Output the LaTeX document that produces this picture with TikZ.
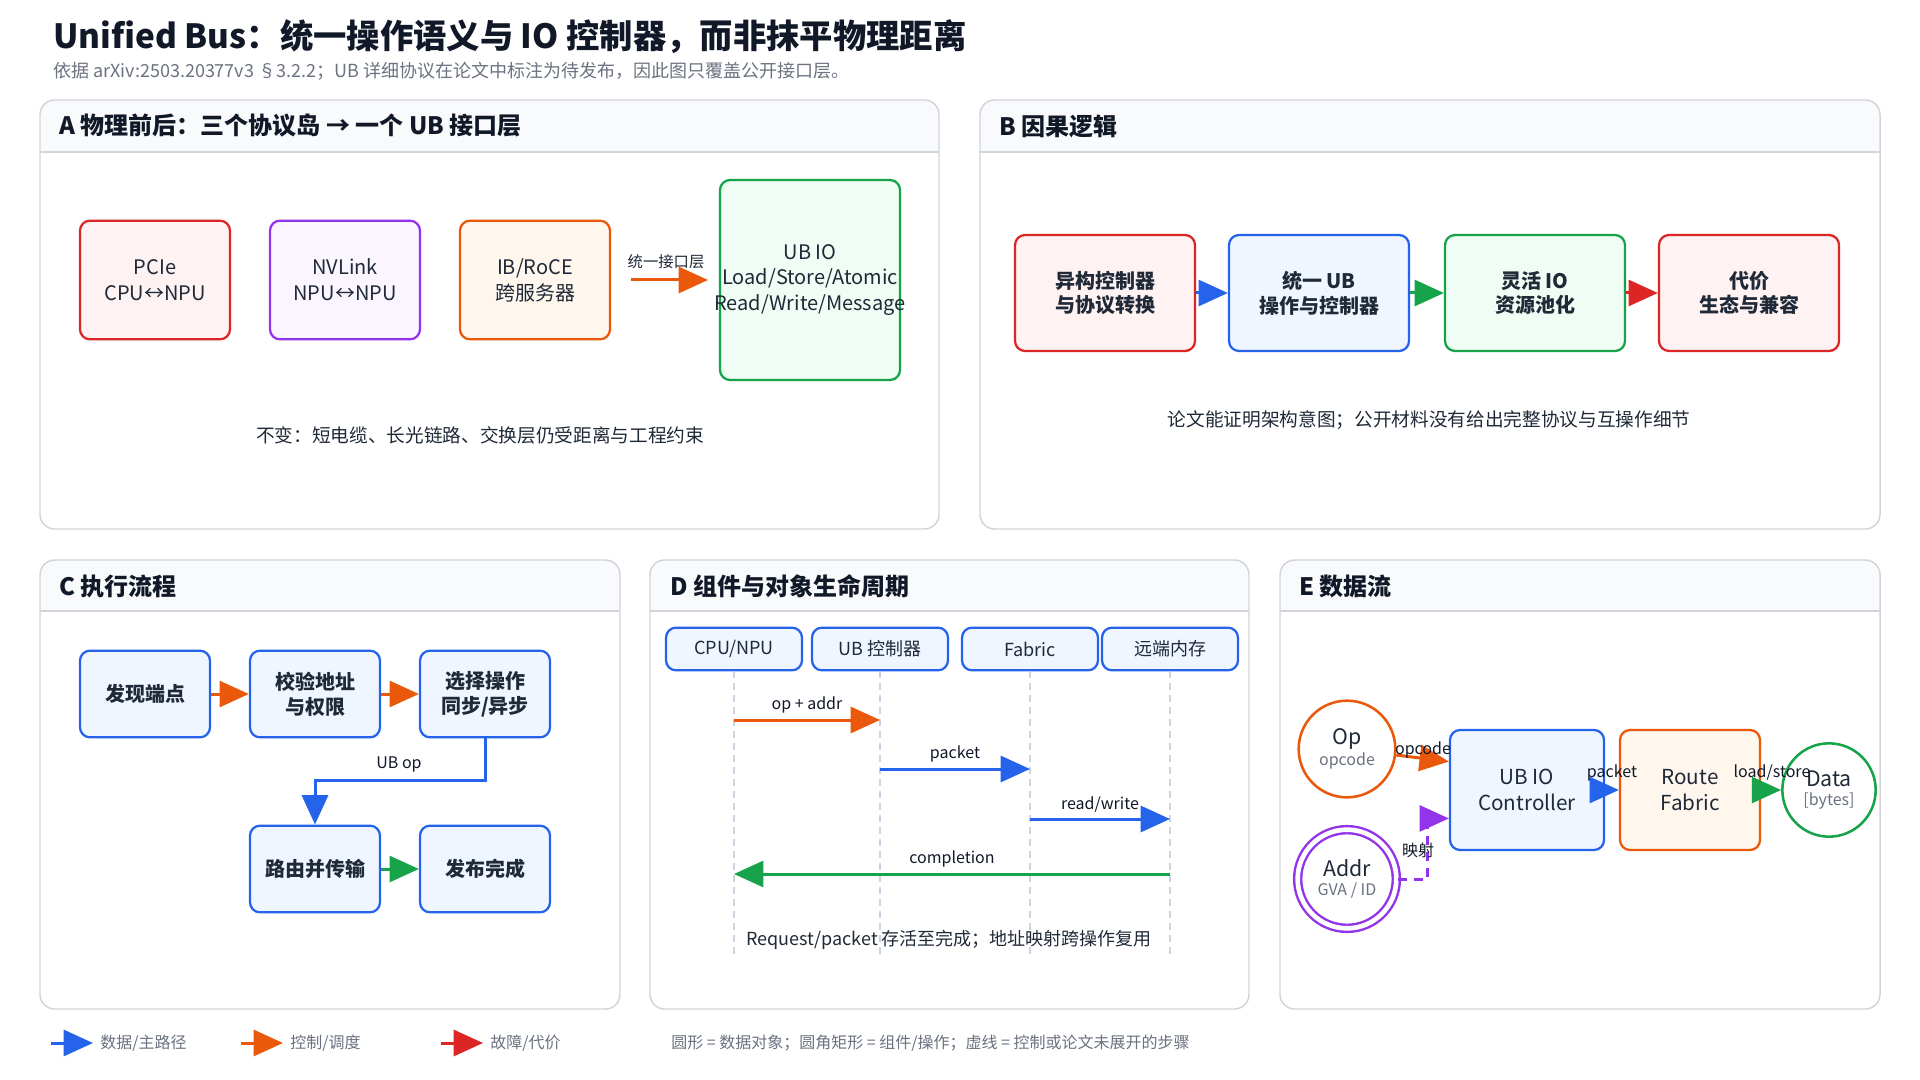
\documentclass[tikz,border=0pt]{standalone}
\usepackage{fontspec}
\setmainfont{Noto Sans CJK SC}
\usetikzlibrary{arrows.meta}

\definecolor{ink}{HTML}{111827}
\definecolor{body}{HTML}{1F2937}
\definecolor{mute}{HTML}{6B7280}
\definecolor{frame}{HTML}{D1D5DB}
\definecolor{headbg}{HTML}{F8FAFC}
\definecolor{lifegray}{HTML}{CBD5E1}
\definecolor{cred}{HTML}{DC2626}
\definecolor{fred}{HTML}{FEF2F2}
\definecolor{cpur}{HTML}{9333EA}
\definecolor{fpur}{HTML}{FAF5FF}
\definecolor{corg}{HTML}{EA580C}
\definecolor{forg}{HTML}{FFF7ED}
\definecolor{cgrn}{HTML}{16A34A}
\definecolor{fgrn}{HTML}{F0FDF4}
\definecolor{cblu}{HTML}{2563EB}
\definecolor{fblu}{HTML}{EFF6FF}

\newcommand\fsz[2]{\fontsize{#1pt}{#2pt}\selectfont}

\tikzset{
  panel/.style={draw=frame, line width=1.1pt, rounded corners=11pt},
  panelhead/.style={anchor=west, inner sep=0pt, text=ink, font=\fsz{18}{22}\bfseries},
  card/.style 2 args={draw=#1, fill=#2, line width=1.7pt, rounded corners=7.5pt, align=center, text=body, inner sep=1pt},
  ring/.style={circle, draw=#1, fill=white, line width=1.9pt, align=center, text=body, inner sep=0pt},
  flow/.style={line width=2.25pt, -{Triangle[length=22pt,width=19.5pt]}},
  lifeline/.style={draw=lifegray, line width=1.1pt, dash pattern=on 5pt off 4pt},
  footline/.style={text=body, font=\fsz{14}{17}},
  edgetag/.style={text=ink, font=\fsz{12}{14}, inner sep=1pt},
  legendtxt/.style={anchor=west, inner sep=0pt, text=mute, font=\fsz{12}{14}}
}

\begin{document}
\begin{tikzpicture}[x=0.75pt, y=-0.75pt]
\useasboundingbox (0,0) rectangle (1920,1080);
\fill[white] (0,0) rectangle (1920,1080);

% Draw the title
\node[anchor=west, inner sep=0pt, text=ink, font=\fsz{25}{30}\bfseries] (title) at (53,37) {Unified Bus：统一操作语义与 IO 控制器，而非抹平物理距离};
\node[anchor=west, inner sep=0pt, text=mute, font=\fsz{13.5}{16}] (subtitle) at (53,71) {依据 arXiv:2503.20377v3 §3.2.2；UB 详细协议在论文中标注为待发布，因此图只覆盖公开接口层。};

% Draw the panels
\foreach \xa/\ya/\xb/\yb/\hy in {40/100/939/529/152, 980/100/1880/529/152, 40/560/620/1009/611, 650/560/1249/1009/611, 1280/560/1880/1009/611}{
  \begin{scope}
    \clip[rounded corners=11pt] (\xa,\ya) rectangle (\xb,\yb);
    \fill[headbg] (\xa,\ya) rectangle (\xb,\hy);
  \end{scope}
  \draw[draw=frame, line width=1.1pt] (\xa,\hy) -- (\xb,\hy);
  \draw[panel] (\xa,\ya) rectangle (\xb,\yb);
}
\node[panelhead] (headA) at (59,126) {A 物理前后：三个协议岛 → 一个 UB 接口层};
\node[panelhead] (headB) at (999,126) {B 因果逻辑};
\node[panelhead] (headC) at (59,586) {C 执行流程};
\node[panelhead] (headD) at (670,586) {D 组件与对象生命周期};
\node[panelhead] (headE) at (1299,586) {E 数据流};

% Panel A
\tikzset{islandbox/.style={minimum width=112.5pt, minimum height=89pt, font=\fsz{15}{19.5}}}
\node[card={cred}{fred}, islandbox] (pcie) at (155,280) {PCIe\\CPU↔NPU};
\node[card={cpur}{fpur}, islandbox] (nvlink) at (345,280) {NVLink\\NPU↔NPU};
\node[card={corg}{forg}, islandbox] (ibroce) at (535,280) {IB/RoCE\\跨服务器};
\node[card={cgrn}{fgrn}, minimum width=135pt, minimum height=150pt,
  label={[align=center, text=body, font=\fsz{15}{19}]center:UB IO\\Load/Store/Atomic\\Read/Write/Message}] (ubio) at (810,280) {};
\coordinate (uniS) at (631,280);
\coordinate (uniE) at (708,280);
\draw[flow, corg] (uniS) -- (uniE);
\node[text=body, font=\fsz{11.5}{14}, inner sep=1pt] (uniL) at (666,262) {统一接口层};
\node[footline] (footA) at (480,435) {不变：短电缆、长光链路、交换层仍受距离与工程约束};

% Panel B
\tikzset{causebox/.style={minimum width=135pt, minimum height=87pt, font=\fsz{15}{18.5}\bfseries}}
\node[card={cred}{fred}, causebox] (hetero) at (1105,293) {异构控制器\\与协议转换};
\node[card={cblu}{fblu}, causebox] (unify) at (1319,293) {统一 UB\\操作与控制器};
\node[card={cgrn}{fgrn}, causebox] (pool) at (1535,293) {灵活 IO\\资源池化};
\node[card={cred}{fred}, causebox] (cost) at (1749,293) {代价\\生态与兼容};
\draw[flow, cblu] (hetero) -- (unify);
\draw[flow, cgrn] (unify) -- (pool);
\draw[flow, cred] (pool) -- (cost);
\node[footline] (footB) at (1429,420) {论文能证明架构意图；公开材料没有给出完整协议与互操作细节};

% Panel C
\tikzset{stepbox/.style={card={cblu}{fblu}, minimum width=97.5pt, minimum height=65pt, font=\fsz{15}{19}\bfseries}}
\node[stepbox] (discover) at (145,694) {发现端点};
\node[stepbox] (verify) at (315,694) {校验地址\\与权限};
\node[stepbox] (choose) at (485,694) {选择操作\\同步/异步};
\node[stepbox] (transmit) at (315,869) {路由并传输};
\node[stepbox] (finish) at (485,869) {发布完成};
\draw[flow, corg] (discover) -- (verify);
\draw[flow, corg] (verify) -- (choose);
\draw[flow, cblu] (choose.south) -- ++(0,42) -| (transmit.north);
\draw[flow, cgrn] (transmit) -- (finish);
\node[edgetag] (ubop) at (399,764) {UB op};

% Panel D
\tikzset{actor/.style={card={cblu}{fblu}, minimum width=102pt, minimum height=32pt, font=\fsz{13.5}{16}\mdseries}}
\node[actor] (cpu) at (734,649) {CPU/NPU};
\node[actor] (ubc) at (880,649) {UB 控制器};
\node[actor] (fabric) at (1030,649) {Fabric};
\node[actor] (rmem) at (1170,649) {远端内存};
\foreach \who in {cpu, ubc, fabric, rmem}
  \draw[lifeline] (\who.south) -- (\who.south |- 0,955);
\draw[flow, corg] (cpu.south |- 0,720) -- (ubc.south |- 0,720) node[midway, above=3pt, edgetag] {op + addr};
\draw[flow, cblu] (ubc.south |- 0,769) -- (fabric.south |- 0,769) node[midway, above=3pt, edgetag] {packet};
\draw[flow, cblu] (fabric.south |- 0,819) -- (rmem.south |- 0,819) node[midway, above=3pt, edgetag] {read/write};
\draw[flow, cgrn] (rmem.south |- 0,874) -- (cpu.south |- 0,874) node[midway, above=3pt, edgetag] {completion};
\node[footline, font=\fsz{13.5}{16}] (footD) at (949,940) {Request/packet 存活至完成；地址映射跨操作复用};

% Panel E
\node[ring=corg, minimum size=72.5pt] (op) at (1347,749) {\fsz{16}{19}Op\\[2pt]\fsz{12}{14}\color{mute}opcode};
\node[ring=cpur, double=white, double distance=3.5pt, line width=1.8pt, minimum size=74pt] (addr) at (1347,879) {\fsz{16}{19}Addr\\[2pt]\fsz{12}{14}\color{mute}GVA / ID};
\node[card={cblu}{fblu}, minimum width=115.5pt, minimum height=90pt, font=\fsz{15.5}{19}] (ubctl) at (1527,790) {UB IO\\Controller};
\node[card={corg}{forg}, minimum width=105pt, minimum height=90pt, font=\fsz{15.5}{19}] (rfab) at (1690,790) {Route\\Fabric};
\node[ring=cgrn, minimum size=70pt] (data) at (1829,790) {\fsz{16}{19}Data\\[2pt]\fsz{12}{14}\color{mute}[bytes]};
\draw[flow, corg] (op) -- (ubctl.160);
\draw[flow, cpur, dash pattern=on 7pt off 5pt] (addr.east) -- ++(30,0) |- (ubctl.200);
\draw[flow, cblu] (ubctl) -- (rfab);
\draw[flow, cgrn] (rfab) -- (data);
\node[edgetag] (opcodeL) at (1423,750) {opcode};
\node[edgetag] (mapL) at (1418,850) {映射};
\node[edgetag] (packetL) at (1612,773) {packet};
\node[edgetag] (lsL) at (1772,773) {load/store};

% Draw the legend
\coordinate (lgDataS) at (51,1043);
\coordinate (lgDataE) at (93,1043);
\coordinate (lgCtrlS) at (241,1043);
\coordinate (lgCtrlE) at (283,1043);
\coordinate (lgCostS) at (441,1043);
\coordinate (lgCostE) at (483,1043);
\draw[flow, cblu] (lgDataS) -- (lgDataE);
\draw[flow, corg] (lgCtrlS) -- (lgCtrlE);
\draw[flow, cred] (lgCostS) -- (lgCostE);
\node[legendtxt] (lgData) at (100,1043) {数据/主路径};
\node[legendtxt] (lgCtrl) at (290,1043) {控制/调度};
\node[legendtxt] (lgCost) at (490,1043) {故障/代价};
\node[legendtxt] (lgShape) at (671,1043) {圆形 = 数据对象；圆角矩形 = 组件/操作；虚线 = 控制或论文未展开的步骤};
\end{tikzpicture}
\end{document}
